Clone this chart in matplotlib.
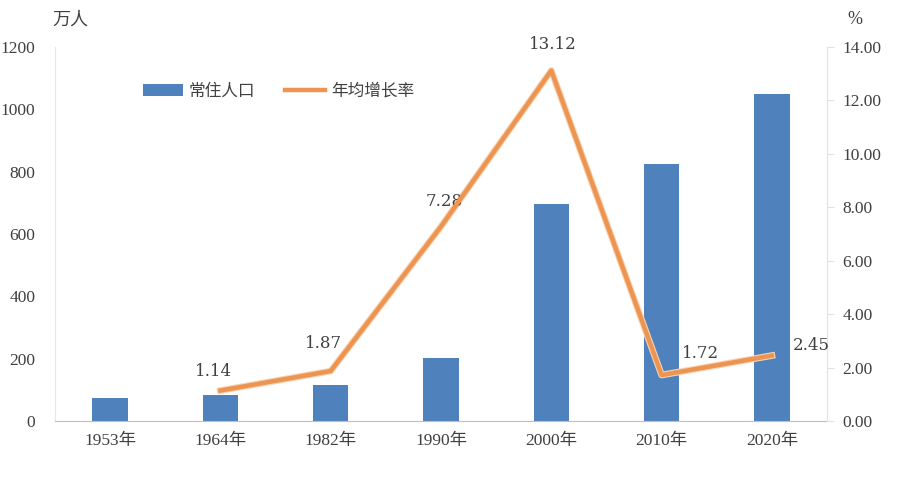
import matplotlib.pyplot as plt
import numpy as np

years = ["1953年", "1964年", "1982年", "1990年", "2000年", "2010年", "2020年"]
population = [74, 83, 115, 202, 696, 824, 1049]
rate_idx = [1, 2, 3, 4, 5, 6]
rate = [1.14, 1.87, 7.28, 13.12, 1.72, 2.45]
rate_labels = ["1.14", "1.87", "7.28", "13.12", "1.72", "2.45"]

fam = ['Liberation Serif', 'Noto Sans CJK SC', 'DejaVu Sans']
plt.rcParams['font.family'] = fam
txt = '#404040'

fig = plt.figure(figsize=(9, 4.95), dpi=100)
ax = fig.add_axes([0.061, 0.1495, 0.858, 0.7555])
x = np.arange(len(years))
bars = ax.bar(x, population, width=0.32, color='#4F81BD', label='常住人口', zorder=2)
ax.set_xlim(-0.5, 6.5)
ax.set_ylim(0, 1200)
ax.set_yticks(range(0, 1201, 200))
ax.set_xticks(x)
ax.set_xticklabels(years)
for s in ['top', 'right']:
    ax.spines[s].set_visible(False)
ax.spines['left'].set_color('#E6E6E6')
ax.spines['bottom'].set_color('#BFBFBF')
ax.tick_params(axis='y', length=0, pad=14, labelsize=12.5, labelcolor=txt)
ax.tick_params(axis='x', length=0, pad=9, labelsize=12.5, labelcolor=txt)

ax2 = ax.twinx()
ax2.set_ylim(0, 14)
ax2.set_yticks(range(0, 15, 2))
ax2.set_yticklabels(["%.2f" % v for v in range(0, 15, 2)])
for s in ['top', 'left', 'bottom']:
    ax2.spines[s].set_visible(False)
ax2.spines['right'].set_color('#D9EAD3')
ax2.tick_params(axis='y', length=5, color='#D9EAD3', pad=6, labelsize=12.5, labelcolor=txt)
ax2.plot(rate_idx, rate, color='#F8D2B2', lw=4.8, zorder=3)
line, = ax2.plot(rate_idx, rate, color='#EC9450', lw=3.2, label='年均增长率', zorder=4)

offsets = [(-7, 19), (-7, 28), (3, 25), (1, 26), (39, 22), (39, 10)]
for i, v, lab, (dx, dy) in zip(rate_idx, rate, rate_labels, offsets):
    ax2.annotate(lab, (i, v), xytext=(dx, dy), textcoords='offset pixels',
                 ha='center', va='center', fontsize=12, color=txt,
                 family=['DejaVu Serif'])

fig.text(70 / 900, 1 - 20 / 495, '万人', fontsize=13, color=txt, ha='center', va='center')
fig.text(855 / 900, 1 - 20 / 495, '%', fontsize=13, color=txt, ha='center', va='center')

fig.legend([bars, line], ['常住人口', '年均增长率'], loc='center left',
           bbox_to_anchor=(128 / 900, 1 - 92 / 495), ncol=2, frameon=False,
           fontsize=12, handlelength=2.4, columnspacing=1.8, handletextpad=0.35,
           labelcolor=txt)

fig.savefig('out.png', dpi=100)
